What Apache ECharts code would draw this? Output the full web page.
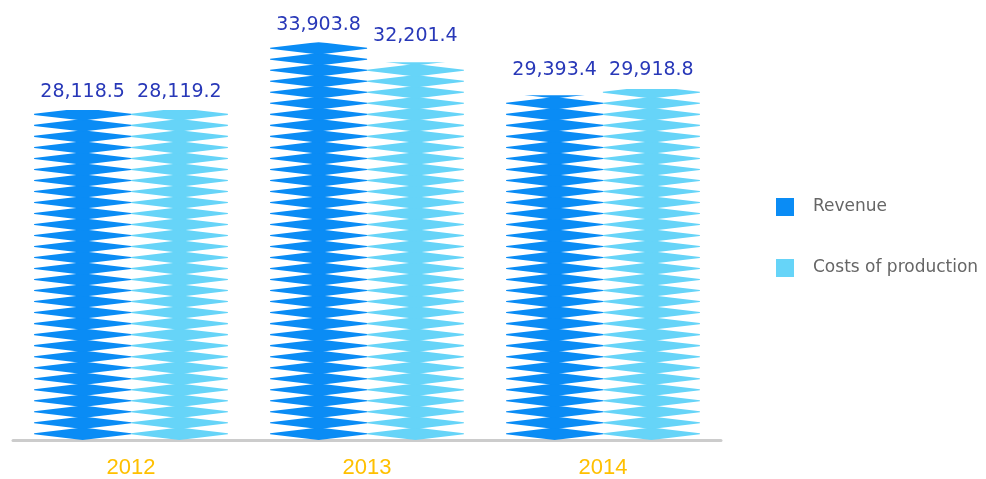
<!DOCTYPE html>
<html>
<head>
<meta charset="utf-8">
<script src="https://cdn.jsdelivr.net/npm/echarts@6/dist/echarts.min.js"></script>
<style>
  html, body { margin: 0; padding: 0; background: #fff; }
  #chart { width: 986px; height: 479px; }
</style>
</head>
<body>
<div id="chart"></div>
<script>
var years = ["2012", "2013", "2014"];
var revenue = [28118.5, 33903.8, 29393.4];
var costs = [28119.2, 32201.4, 29918.8];

function fmt(v) {
  return v.toLocaleString("en-US", { minimumFractionDigits: 1, maximumFractionDigits: 1 });
}

var chart = echarts.init(document.getElementById("chart"));

// a wide diamond cut off at the bar edges, stacked with a small overlap
var cutDiamond = "path://M0,5.5 L48.5,0 L97,5.5 L97,6.5 L48.5,12 L0,6.5 Z";

function diamondBar(name, data, color) {
  return {
    name: name,
    type: "pictorialBar",
    symbol: cutDiamond,
    symbolRepeat: true,
    symbolSize: [97, 12.5],
    symbolMargin: -0.65,
    symbolClip: true,
    barGap: "0%",
    barCategoryGap: "18%",
    itemStyle: { color: color },
    label: {
      show: true,
      position: "top",
      distance: 7,
      color: "#2838b8",
      fontSize: 19,
      fontFamily: "DejaVu Sans",
      formatter: function (p) { return fmt(p.value); },
    },
    data: data,
  };
}

chart.setOption({
  animation: false,
  legend: {
    orient: "vertical",
    left: 771,
    top: 193,
    itemWidth: 18,
    itemHeight: 18,
    itemGap: 43,
    icon: "rect",
    textStyle: {
      color: "#666",
      fontSize: 17,
      fontFamily: "DejaVu Sans",
      padding: [0, 0, 0, 14],
    },
    data: ["Revenue", "Costs of production"],
  },
  grid: {
    left: 13,
    right: 265,
    top: 20,
    bottom: 39,
  },
  xAxis: {
    type: "category",
    data: years,
    axisTick: { show: false },
    axisLine: { lineStyle: { color: "#cccccc", width: 3 } },
    axisLabel: {
      color: "#ffc000",
      fontSize: 22,
      fontFamily: "Liberation Sans",
      margin: 17,
    },
  },
  yAxis: {
    type: "value",
    min: 0,
    max: 35800,
    show: false,
  },
  series: [
    diamondBar("Revenue", revenue, "#0a8cf5"),
    diamondBar("Costs of production", costs, "#66d4f8"),
  ],
});
</script>
</body>
</html>
